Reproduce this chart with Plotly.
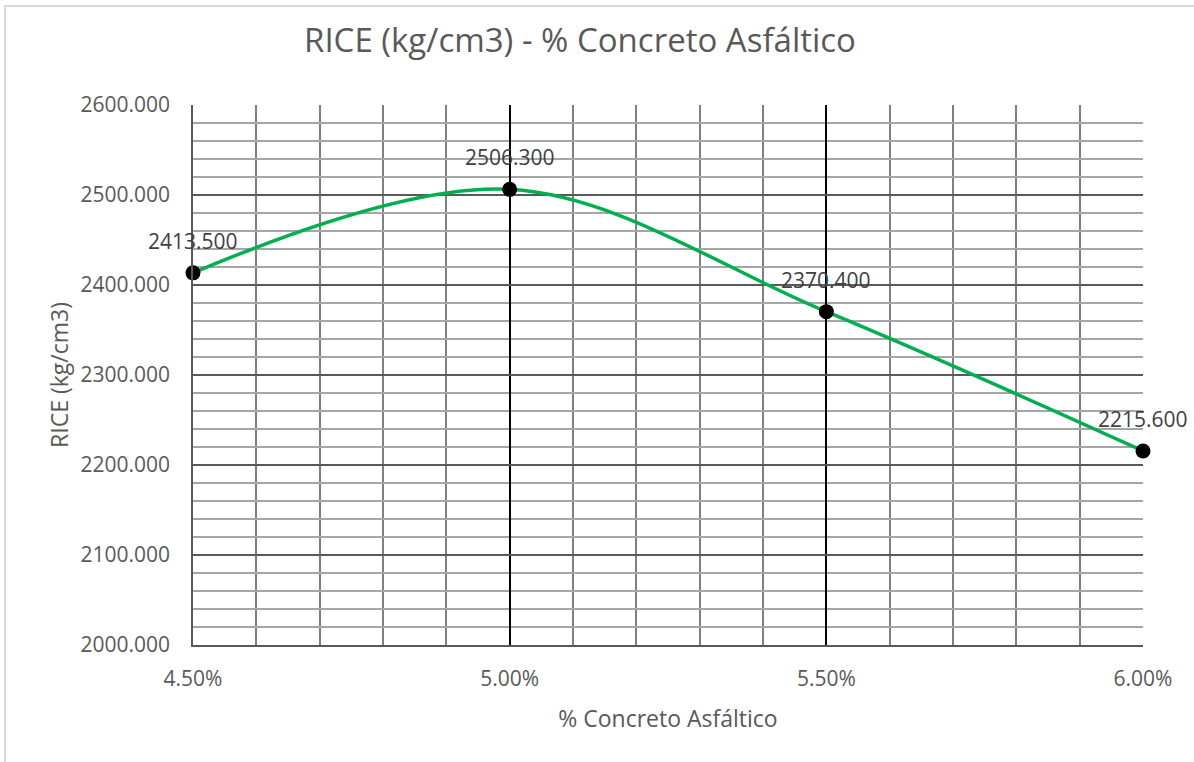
import plotly.graph_objects as go

# Data
asphalt_pct = [0.045, 0.050, 0.055, 0.060]
rice_values = [2413.5, 2506.3, 2370.4, 2215.6]
value_labels = ["2413.500", "2506.300", "2370.400", "2215.600"]

title_text = "RICE (kg/cm3) - % Concreto Asfáltico"
x_title = "% Concreto Asfáltico"
y_title = "RICE (kg/cm3)"

W, H = 1194, 762
L, R, T, B = 193, 51, 105, 117
pw, ph = W - L - R, H - T - B

fig = go.Figure()
fig.add_trace(go.Scatter(
    x=asphalt_pct, y=rice_values,
    mode="lines+markers",
    line=dict(color="#00B050", width=3.5, shape="spline", smoothing=1.0),
    marker=dict(color="#000000", size=15),
    cliponaxis=False,
    showlegend=False,
))

annotations = [
    dict(x=xv, y=yv, text=lab, xref="x", yref="y", showarrow=False,
         yshift=32, xanchor="center", yanchor="middle",
         font=dict(family="Open Sans", size=21, color="#404040"))
    for xv, yv, lab in zip(asphalt_pct, rice_values, value_labels)
]

fig.update_layout(
    width=W, height=H,
    margin=dict(l=L, r=R, t=T, b=B),
    paper_bgcolor="white", plot_bgcolor="white",
    title=dict(text=title_text, x=580 / W, xref="container", xanchor="center",
               y=1 - 40 / H, yref="container", yanchor="middle",
               font=dict(family="Open Sans", size=33, color="#595959")),
    xaxis=dict(
        range=[0.045, 0.060], tick0=0.045, dtick=0.005, tickformat=".2%",
        showgrid=True, gridcolor="#000000", gridwidth=1.5,
        minor=dict(dtick=0.001, tick0=0.045, showgrid=True, gridcolor="#7F7F7F", gridwidth=1.5),
        showline=True, linecolor="#595959", linewidth=1.5,
        zeroline=False, ticks="", ticklabelstandoff=14,
        tickfont=dict(family="Open Sans", size=21, color="#595959"),
        title=dict(text=x_title, standoff=20, font=dict(family="Open Sans", size=23, color="#595959")),
        fixedrange=True,
    ),
    yaxis=dict(
        range=[2000, 2600], tick0=2000, dtick=100, tickformat=".3f",
        showgrid=True, gridcolor="#595959", gridwidth=1.5,
        minor=dict(dtick=20, tick0=2000, showgrid=True, gridcolor="#A6A6A6", gridwidth=1.5),
        showline=True, linecolor="#595959", linewidth=1.5,
        zeroline=False, ticks="", ticklabelstandoff=17,
        tickfont=dict(family="Open Sans", size=21, color="#595959"),
        title=dict(text=y_title, standoff=5, font=dict(family="Open Sans", size=23, color="#595959")),
        fixedrange=True,
    ),
    annotations=annotations,
    shapes=[dict(type="rect", xref="paper", yref="paper",
                 x0=(5 - L) / pw, x1=1.2, y0=-0.3, y1=(H - B - 6) / ph,
                 line=dict(color="#D9D9D9", width=2), fillcolor="rgba(0,0,0,0)", layer="below")],
)

fig.write_html("out.html", config={"displayModeBar": False},
               post_script="document.body.style.margin='0';document.body.style.overflow='hidden';")
